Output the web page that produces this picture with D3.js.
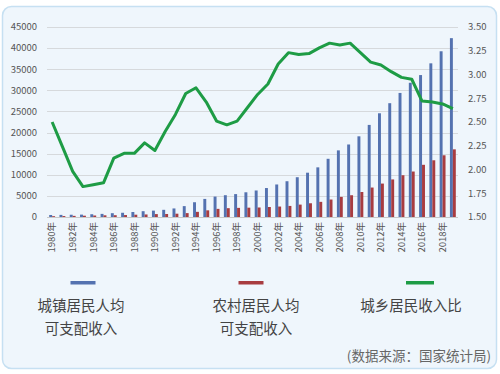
<!DOCTYPE html>
<html>
<head>
<meta charset="utf-8">
<script src="https://cdn.jsdelivr.net/npm/d3@7"></script>
<style>
  body { margin: 0; background: #fff; }
  svg text { font-family: "Noto Sans CJK SC", "Noto Sans", sans-serif; }
</style>
</head>
<body>
<svg id="chart"></svg>
<script>
const W = 500, H = 374
const margins = { top: 27, bottom: 157, left: 47, right: 42 }

const years = d3.range(1980, 2020)
const urban = [477.6, 500.4, 535.3, 564.6, 652.1, 739.1, 900.9, 1002.1, 1180.2, 1373.9,
  1510.2, 1700.6, 2026.6, 2577.4, 3496.2, 4283.0, 4838.9, 5160.3, 5425.1, 5854.0,
  6280.0, 6859.6, 7702.8, 8472.2, 9421.6, 10493.0, 11759.5, 13785.8, 15780.8, 17174.7,
  19109.4, 21809.8, 24564.7, 26955.1, 29381.0, 31790.0, 33616.0, 36396.0, 39251.0, 42359.0]
const rural = [191.3, 223.4, 270.1, 309.8, 355.3, 397.6, 423.8, 462.6, 544.9, 601.5,
  686.3, 708.6, 784.0, 921.6, 1221.0, 1577.7, 1926.1, 2090.1, 2162.0, 2210.3,
  2253.4, 2366.4, 2475.6, 2622.2, 2936.4, 3254.9, 3587.0, 4140.4, 4760.6, 5153.2,
  5919.0, 6977.3, 7916.6, 8895.9, 9892.0, 10772.0, 12363.0, 13432.0, 14617.0, 16021.0]
const ratio = [2.50, 2.24, 1.98, 1.82, 1.84, 1.86, 2.12, 2.17, 2.17, 2.28,
  2.20, 2.40, 2.58, 2.80, 2.86, 2.71, 2.51, 2.47, 2.51, 2.65,
  2.79, 2.90, 3.11, 3.23, 3.21, 3.22, 3.28, 3.33, 3.31, 3.33,
  3.23, 3.13, 3.10, 3.03, 2.97, 2.95, 2.72, 2.71, 2.69, 2.64]

const leftTicks = d3.range(0, 45001, 5000)
const rightTicks = [1.50, 1.75, 2.00, 2.25, 2.50, 2.75, 3.00, 3.25, 3.50]

const legendItems = [
  { lines: ["城镇居民人均", "可支配收入"], color: "#5472b0", x: 83, tx: 81, w: 25 },
  { lines: ["农村居民人均", "可支配收入"], color: "#a83c40", x: 251, tx: 256, w: 25 },
  { lines: ["城乡居民收入比"], color: "#1e9c45", x: 420, tx: 411, w: 28 }
]
const source = "(数据来源：国家统计局)"

const svg = d3.select("#chart").attr("width", W).attr("height", H)

// panel
svg.append("rect")
  .attr("x", 2.5).attr("y", 6.5)
  .attr("width", 494).attr("height", 362)
  .attr("rx", 9)
  .attr("fill", "#eff6fc")
  .attr("stroke", "#c6e0f2")
  .attr("stroke-width", 1.5)

const x0 = margins.left, x1 = W - margins.right
const y0 = H - margins.bottom, y1 = margins.top

const x = d3.scaleBand().domain(years).range([x0, x1]).paddingInner(0).paddingOuter(0)
const y = d3.scaleLinear().domain([0, 45000]).range([y0, y1])
const yR = d3.scaleLinear().domain([1.5, 3.5]).range([y0, y1])

// grid
svg.append("g")
  .selectAll("line")
  .data(leftTicks)
  .enter().append("line")
  .attr("x1", x0).attr("x2", x1)
  .attr("y1", d => Math.round(y(d)) + 0.5)
  .attr("y2", d => Math.round(y(d)) + 0.5)
  .attr("stroke", d => d === 0 ? "#c8c8c8" : "#d6d9dc")
  .attr("stroke-width", 1)

// left axis labels
svg.append("g")
  .selectAll("text")
  .data(leftTicks)
  .enter().append("text")
  .attr("x", 37)
  .attr("y", d => y(d))
  .attr("dy", "0.35em")
  .attr("text-anchor", "end")
  .attr("font-size", "9.5px")
  .attr("fill", "#555")
  .text(d => d)

// right axis labels
svg.append("g")
  .selectAll("text")
  .data(rightTicks)
  .enter().append("text")
  .attr("x", 468)
  .attr("y", d => yR(d))
  .attr("dy", "0.35em")
  .attr("text-anchor", "start")
  .attr("font-size", "9.5px")
  .attr("fill", "#555")
  .text(d => d.toFixed(2))

// bars
const bw = x.bandwidth() / 3.5
svg.append("g")
  .selectAll("rect")
  .data(years)
  .enter().append("rect")
  .attr("x", (d, i) => x(d) + x.bandwidth() / 2 - bw)
  .attr("y", (d, i) => y(urban[i]))
  .attr("width", bw)
  .attr("height", (d, i) => y0 - y(urban[i]))
  .attr("fill", legendItems[0].color)

svg.append("g")
  .selectAll("rect")
  .data(years)
  .enter().append("rect")
  .attr("x", (d, i) => x(d) + x.bandwidth() / 2)
  .attr("y", (d, i) => y(rural[i]))
  .attr("width", bw)
  .attr("height", (d, i) => y0 - y(rural[i]))
  .attr("fill", legendItems[1].color)

// ratio line
const line = d3.line()
  .x((d, i) => x(years[i]) + x.bandwidth() / 2)
  .y(d => yR(d))

svg.append("path")
  .datum(ratio)
  .attr("d", line)
  .attr("fill", "none")
  .attr("stroke", legendItems[2].color)
  .attr("stroke-width", 3)
  .attr("stroke-linejoin", "round")

// x labels, every other year
svg.append("g")
  .selectAll("text")
  .data(years.filter(d => d % 2 === 0))
  .enter().append("text")
  .attr("transform", d => "translate(" + (x(d) + x.bandwidth() / 2) + "," + (y0 + 5) + ") rotate(-90)")
  .attr("dy", "0.35em")
  .attr("text-anchor", "end")
  .attr("font-size", "9.5px")
  .attr("fill", "#555")
  .text(d => d + "年")

// legend
const legend = svg.selectAll(".legend")
  .data(legendItems)
  .enter().append("g")
  .attr("class", "legend")

legend.append("rect")
  .attr("x", d => d.x - d.w / 2).attr("y", 281)
  .attr("width", d => d.w).attr("height", 3.5)
  .attr("fill", d => d.color)

legend.each(function(d) {
  const g = d3.select(this)
  d.lines.forEach(function(t, k) {
    g.append("text")
      .attr("x", d.tx)
      .attr("y", 306 + k * 23)
      .attr("dy", "0.35em")
      .attr("text-anchor", "middle")
      .attr("font-size", "14.5px")
      .attr("fill", "#444")
      .text(t)
  })
})

svg.append("text")
  .attr("x", 491)
  .attr("y", 356)
  .attr("dy", "0.35em")
  .attr("text-anchor", "end")
  .attr("font-size", "13.5px")
  .attr("fill", "#666")
  .text(source)
</script>
</body>
</html>
